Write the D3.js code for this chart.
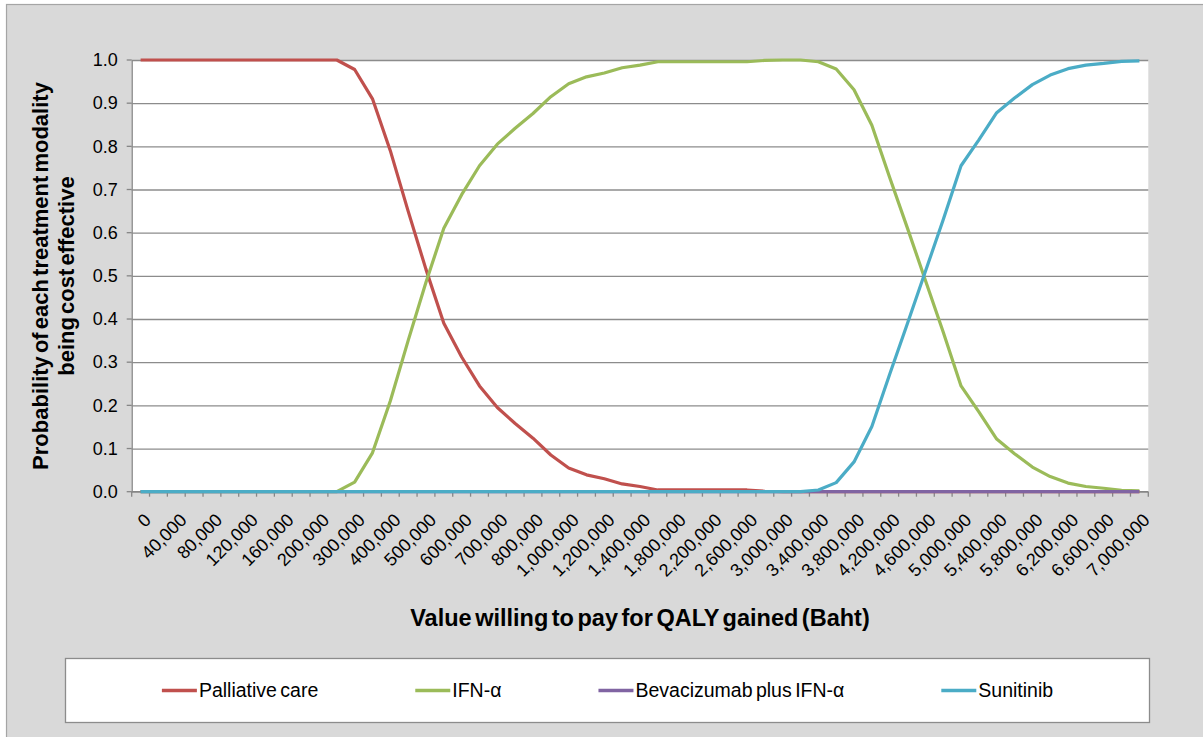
<!DOCTYPE html>
<html>
<head>
<meta charset="utf-8">
<script src="https://cdn.jsdelivr.net/npm/d3@7"></script>
<style>
  html, body { margin: 0; padding: 0; background: #ffffff; }
  svg { display: block; font-family: "Liberation Sans", Arial, sans-serif; }
</style>
</head>
<body>
<svg id="chart" width="1203" height="737"></svg>
<script>
// Willingness-to-pay thresholds (Baht per QALY gained)
const wtp = [0, 20000, 40000, 60000, 80000, 100000, 120000, 140000, 160000, 180000, 200000,
  250000, 300000, 350000, 400000, 450000, 500000, 550000, 600000, 650000, 700000, 750000, 800000,
  900000, 1000000, 1100000, 1200000, 1300000, 1400000,
  1600000, 1800000, 2000000, 2200000, 2400000, 2600000, 2800000, 3000000, 3200000, 3400000,
  3600000, 3800000, 4000000, 4200000, 4400000, 4600000, 4800000, 5000000, 5200000, 5400000,
  5600000, 5800000, 6000000, 6200000, 6400000, 6600000, 6800000, 7000000];

// Probability of each modality being cost effective at each threshold
const palliative = [1, 1, 1, 1, 1, 1, 1, 1, 1, 1, 1,
  1, 0.978, 0.910, 0.790, 0.650, 0.515, 0.390, 0.312, 0.245, 0.195, 0.158, 0.124,
  0.085, 0.055, 0.039, 0.030, 0.018, 0.012,
  0.004, 0.004, 0.004, 0.004, 0.004, 0.004, 0.001, 0, 0, 0,
  0, 0, 0, 0, 0, 0, 0, 0, 0, 0,
  0, 0, 0, 0, 0, 0, 0, 0];

const ifn = [0, 0, 0, 0, 0, 0, 0, 0, 0, 0, 0,
  0, 0.022, 0.090, 0.210, 0.350, 0.485, 0.610, 0.688, 0.755, 0.805, 0.842, 0.876,
  0.915, 0.945, 0.961, 0.970, 0.982, 0.988,
  0.996, 0.996, 0.996, 0.996, 0.996, 0.996, 0.999, 1.0, 1.0, 0.996,
  0.979, 0.931, 0.849, 0.728, 0.610, 0.490, 0.370, 0.245, 0.185, 0.122,
  0.088, 0.057, 0.035, 0.020, 0.012, 0.008, 0.003, 0.002];

const bevacizumab = [0, 0, 0, 0, 0, 0, 0, 0, 0, 0, 0,
  0, 0, 0, 0, 0, 0, 0, 0, 0, 0, 0, 0,
  0, 0, 0, 0, 0, 0,
  0, 0, 0, 0, 0, 0, 0, 0, 0, 0,
  0, 0, 0, 0, 0, 0, 0, 0, 0, 0,
  0, 0, 0, 0, 0, 0, 0, 0];

const sunitinib = [0, 0, 0, 0, 0, 0, 0, 0, 0, 0, 0,
  0, 0, 0, 0, 0, 0, 0, 0, 0, 0, 0, 0,
  0, 0, 0, 0, 0, 0,
  0, 0, 0, 0, 0, 0, 0, 0, 0, 0.004,
  0.021, 0.069, 0.151, 0.272, 0.390, 0.510, 0.630, 0.755, 0.815, 0.878,
  0.912, 0.943, 0.965, 0.980, 0.988, 0.992, 0.997, 0.998];

const seriesNames = ["Palliative care", "IFN-α", "Bevacizumab plus IFN-α", "Sunitinib"];
const seriesColors = ["#c0504d", "#9bbb59", "#8064a2", "#4bacc6"];
const yTicks = [0, 0.1, 0.2, 0.3, 0.4, 0.5, 0.6, 0.7, 0.8, 0.9, 1.0];

const yTitleLines = ["Probability of each treatment modality", "being cost effective"];
const xTitle = "Value willing to pay for QALY gained (Baht)";

const series = [palliative, ifn, bevacizumab, sunitinib];

const svg = d3.select("#chart");

// Chart area background and frame
svg.append("rect")
  .attr("x", 6.5).attr("y", 4.5)
  .attr("width", 1210).attr("height", 750)
  .attr("fill", "#d9d9d9")
  .attr("stroke", "#a5a5a5")
  .attr("stroke-width", 1.2);

const plot = { left: 131.7, right: 1148.3, top: 60, bottom: 491.7 };

const x = d3.scaleBand()
  .domain(wtp.map((d, i) => i))
  .range([plot.left, plot.right])
  .padding(0);

const y = d3.scaleLinear()
  .domain([0, 1])
  .range([plot.bottom, plot.top]);

const cx = i => x(i) + x.bandwidth() / 2;

// Plot area
svg.append("rect")
  .attr("x", plot.left).attr("y", plot.top)
  .attr("width", plot.right - plot.left).attr("height", plot.bottom - plot.top)
  .attr("fill", "#ffffff");

// Horizontal gridlines and y axis
const yAxis = d3.axisLeft(y)
  .tickValues(yTicks)
  .tickFormat(d3.format(".1f"))
  .tickSizeInner(-(plot.right - plot.left))
  .tickSizeOuter(0)
  .tickPadding(14);

const gy = svg.append("g")
  .attr("transform", `translate(${plot.left},0)`)
  .call(yAxis);
gy.select(".domain").attr("stroke", "#868686").attr("stroke-width", 1.3);
gy.selectAll(".tick line").attr("stroke", "#8c8c8c").attr("stroke-width", 1.3);
gy.selectAll(".tick text")
  .attr("fill", "#000")
  .style("font-size", "18px")
  .style("font-family", "'Liberation Sans', Arial, sans-serif");

// small outward tick marks on y axis
svg.append("g").selectAll("line")
  .data(yTicks)
  .join("line")
  .attr("x1", plot.left - 5).attr("x2", plot.left)
  .attr("y1", d => y(d)).attr("y2", d => y(d))
  .attr("stroke", "#868686").attr("stroke-width", 1.3);

// x axis: labels on every other category
const xAxis = d3.axisBottom(x)
  .tickFormat(i => (i % 2 === 0 ? d3.format(",")(wtp[i]) : ""))
  .tickSize(0)
  .tickPadding(0);

const gx = svg.append("g")
  .attr("transform", `translate(0,${plot.bottom})`)
  .call(xAxis);
gx.select(".domain").remove();
gx.selectAll(".tick text")
  .attr("fill", "#000")
  .style("font-size", "18px")
  .style("font-family", "'Liberation Sans', Arial, sans-serif")
  .attr("text-anchor", "end")
  .attr("y", 0).attr("dy", "0.35em")
  .attr("transform", "translate(7,25) rotate(-45)");

// x axis line and tick marks at category boundaries
svg.append("line")
  .attr("x1", plot.left).attr("x2", plot.right)
  .attr("y1", plot.bottom).attr("y2", plot.bottom)
  .attr("stroke", "#868686").attr("stroke-width", 1.3);

const boundaries = wtp.map((d, i) => x(i)).concat([plot.right]);
svg.append("g").selectAll("line")
  .data(boundaries)
  .join("line")
  .attr("x1", d => d).attr("x2", d => d)
  .attr("y1", plot.bottom).attr("y2", plot.bottom + 5)
  .attr("stroke", "#868686").attr("stroke-width", 1.3);

// Series lines
const line = d3.line()
  .x((d, i) => cx(i))
  .y(d => y(d));

svg.append("g").selectAll("path")
  .data(series)
  .join("path")
  .attr("d", d => line(d))
  .attr("fill", "none")
  .attr("stroke", (d, i) => seriesColors[i])
  .attr("stroke-width", 3.2)
  .attr("stroke-linejoin", "round")
  .attr("stroke-linecap", "butt");

// Axis titles
svg.append("text")
  .attr("transform", "translate(48,276) rotate(-90)")
  .attr("text-anchor", "middle")
  .style("font-size", "22px")
  .style("font-weight", "bold")
  .style("word-spacing", "-3px")
  .selectAll("tspan")
  .data(yTitleLines)
  .join("tspan")
  .attr("x", 0)
  .attr("dy", (d, i) => (i === 0 ? 0 : 26))
  .text(d => d);

svg.append("text")
  .attr("x", 640).attr("y", 626)
  .attr("text-anchor", "middle")
  .style("font-size", "23.5px")
  .style("font-weight", "bold")
  .style("word-spacing", "-3px")
  .text(xTitle);

// Legend
const legendBox = { x: 65.5, y: 658.5, w: 1084, h: 64 };
svg.append("rect")
  .attr("x", legendBox.x).attr("y", legendBox.y)
  .attr("width", legendBox.w).attr("height", legendBox.h)
  .attr("fill", "#ffffff")
  .attr("stroke", "#8c8c8c")
  .attr("stroke-width", 1.3);

const legend = svg.append("g");
const items = legend.selectAll("g")
  .data(seriesNames)
  .join("g");

items.append("line")
  .attr("x1", 0).attr("x2", 35)
  .attr("y1", 0).attr("y2", 0)
  .attr("stroke", (d, i) => seriesColors[i])
  .attr("stroke-width", 3.5);

items.append("text")
  .attr("x", 37).attr("y", 0).attr("dy", "0.35em")
  .style("font-size", "19.5px")
  .style("word-spacing", "-2px")
  .attr("fill", "#000")
  .text(d => d);

// lay items out in a row, centred in the box
const gap = 97;
const widths = [];
items.each(function () {
  widths.push(37 + d3.select(this).select("text").node().getComputedTextLength());
});
const total = d3.sum(widths) + gap * (widths.length - 1);
let cursor = legendBox.x + (legendBox.w - total) / 2;
items.attr("transform", (d, i) => {
  const t = `translate(${cursor},${legendBox.y + 32})`;
  cursor += widths[i] + gap;
  return t;
});
</script>
</body>
</html>
